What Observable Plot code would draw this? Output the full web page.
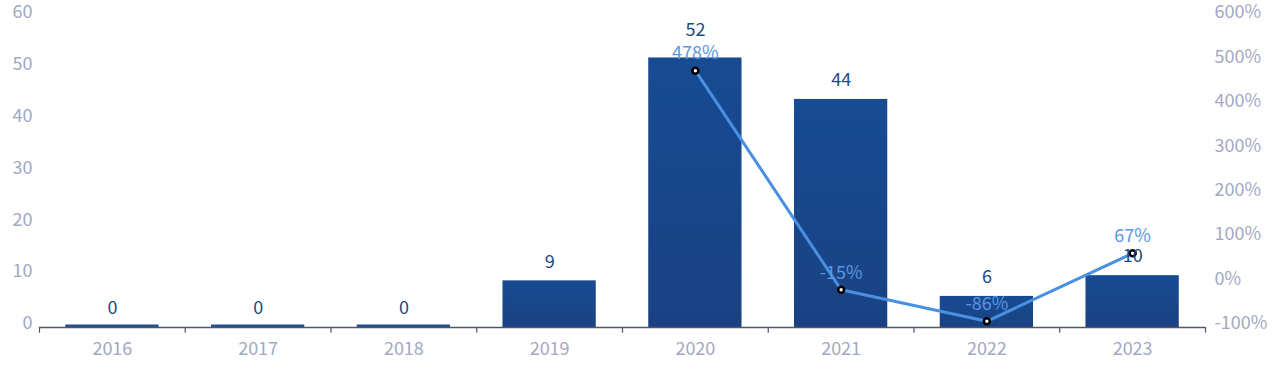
<!DOCTYPE html>
<html>
<head>
<meta charset="utf-8">
<script src="https://cdn.jsdelivr.net/npm/d3@7"></script>
<script src="https://cdn.jsdelivr.net/npm/@observablehq/plot@0.6"></script>
<style>
  html, body { margin: 0; padding: 0; background: #fff; }
  #chart svg { display: block; }
</style>
</head>
<body>
<div id="chart"></div>
<script>
const years = ["2016", "2017", "2018", "2019", "2020", "2021", "2022", "2023"];
const counts = [0, 0, 0, 9, 52, 44, 6, 10];
const growthYears = ["2020", "2021", "2022", "2023"];
const growth = [478, -15, -86, 67];
const leftTicks = [0, 10, 20, 30, 40, 50, 60];
const rightTicks = [-100, 0, 100, 200, 300, 400, 500, 600];

const W = 1280, H = 382;
const mL = 39, mR = 75, mT = 16, mB = 55;
const yMax = 60, pMin = -100, pMax = 600;
const toLeft = p => (p - pMin) / (pMax - pMin) * yMax;   // map % to left scale
const fromLeft = v => v / yMax * (pMax - pMin) + pMin;

const bars = years.map((y, i) => ({year: y, value: counts[i]}));
const pts = growthYears.map((y, i) => ({year: y, pct: growth[i], v: toLeft(growth[i])}));
const step = (W - mL - mR) / years.length;
const raisedLabelYear = "2020"; // label lifted to clear the % label

const tickColor = "#a3a8c3";
const font = "'Noto Sans CJK SC', 'Noto Sans', sans-serif";

function gradientDefs() {
  const ns = "http://www.w3.org/2000/svg";
  const defs = document.createElementNS(ns, "defs");
  const g = document.createElementNS(ns, "linearGradient");
  g.setAttribute("id", "barGrad");
  g.setAttribute("x1", "0"); g.setAttribute("y1", "0");
  g.setAttribute("x2", "0"); g.setAttribute("y2", "1");
  [["0%", "#174b93"], ["100%", "#1a4282"]].forEach(([o, c]) => {
    const s = document.createElementNS(ns, "stop");
    s.setAttribute("offset", o); s.setAttribute("stop-color", c);
    g.appendChild(s);
  });
  defs.appendChild(g);
  return defs;
}

const chart = Plot.plot({
  width: W, height: H,
  marginLeft: mL, marginRight: mR, marginTop: mT, marginBottom: mB,
  style: {fontFamily: font, fontSize: "18px", background: "#fff"},
  x: {domain: years, paddingInner: 0.36, paddingOuter: 0.18, round: false, label: null},
  y: {domain: [0, yMax], label: null},
  marks: [
    gradientDefs,
    Plot.barY(bars, {x: "year", y: "value", fill: "url(#barGrad)"}),
    Plot.barY(bars.filter(d => d.value === 0), {x: "year", y1: 0, y2: 0, insetTop: -2.5, fill: "#21508f"}),
    Plot.ruleY([0], {stroke: "#4b5870", strokeWidth: 1.5}),
    Plot.ruleX(years, {x: d => d, y1: 0, y2: -1.1, dx: -step / 2, stroke: "#4b5870", strokeWidth: 1.2}),
    Plot.ruleX([years[years.length - 1]], {x: d => d, y1: 0, y2: -1.1, dx: step / 2, stroke: "#4b5870", strokeWidth: 1.2}),
    Plot.axisX({tickSize: 0, tickPadding: 15, fill: tickColor, fontSize: 18, label: null}),
    Plot.axisY({anchor: "left", ticks: leftTicks, tickSize: 0, tickPadding: 7, dy: -4, fill: tickColor, fontSize: 18, label: null}),
    Plot.axisY({anchor: "right", ticks: rightTicks.map(toLeft), tickFormat: v => Math.round(fromLeft(v)) + "%", tickSize: 0, tickPadding: 9, dy: -4, fill: tickColor, fontSize: 18, label: null}),
    Plot.line(pts, {x: "year", y: "v", stroke: "#4a90e2", strokeWidth: 3}),
    Plot.dot(pts, {x: "year", y: "v", r: 3, fill: "#fff", stroke: "#000", strokeWidth: 2.6}),
    Plot.text(bars.filter(d => d.year !== raisedLabelYear), {x: "year", y: "value", text: d => String(d.value), dy: -19, fill: "#1f4a82", fontSize: 18}),
    Plot.text(bars.filter(d => d.year === raisedLabelYear), {x: "year", y: "value", text: d => String(d.value), dy: -28, fill: "#1f4a82", fontSize: 18}),
    Plot.text(pts, {x: "year", y: "v", text: d => d.pct + "%", dy: -17, fill: "#5a97e0", fontSize: 18})
  ]
});
document.getElementById("chart").appendChild(chart);
</script>
</body>
</html>
